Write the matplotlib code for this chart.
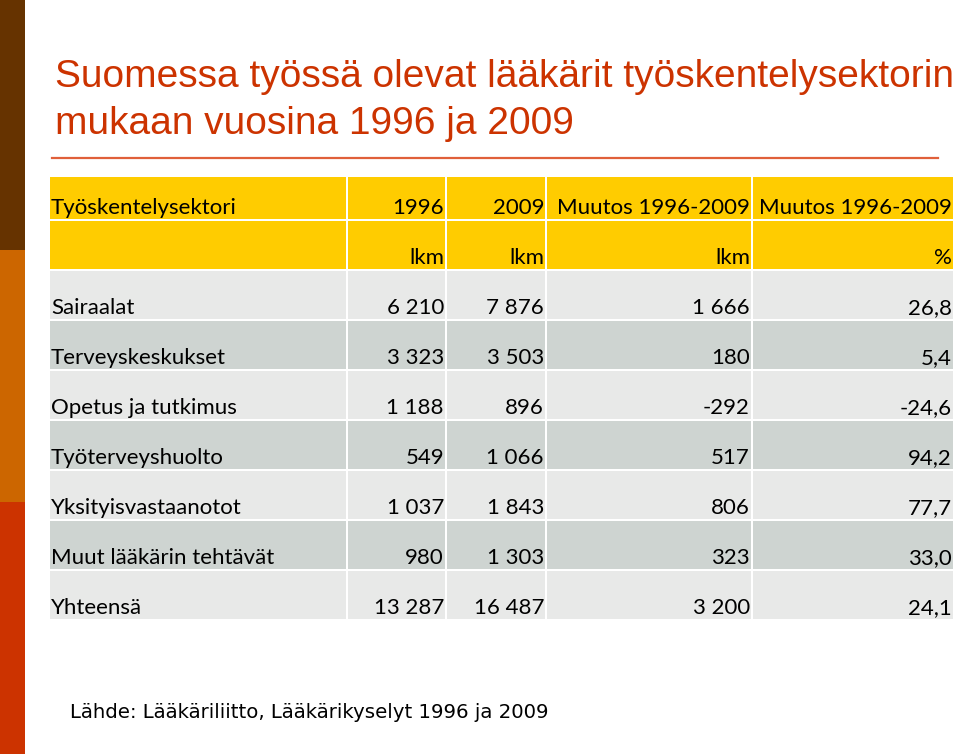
import matplotlib
matplotlib.use('Agg')
import matplotlib.pyplot as plt
from matplotlib.patches import Rectangle

# ---- data ----
title = 'Suomessa työssä olevat lääkärit työskentelysektorin\nmukaan vuosina 1996 ja 2009'
header1 = ['Työskentelysektori', '1996', '2009', 'Muutos 1996-2009', 'Muutos 1996-2009']
header2 = ['', 'lkm', 'lkm', 'lkm', '%']
sectors = ['Sairaalat', 'Terveyskeskukset', 'Opetus ja tutkimus', 'Työterveyshuolto',
           'Yksityisvastaanotot', 'Muut lääkärin tehtävät', 'Yhteensä']
v1996 = ['6 210', '3 323', '1 188', '549', '1 037', '980', '13 287']
v2009 = ['7 876', '3 503', '896', '1 066', '1 843', '1 303', '16 487']
muutos_lkm = ['1 666', '180', '-292', '517', '806', '323', '3 200']
muutos_pct = ['26,8', '5,4', '-24,6', '94,2', '77,7', '33,0', '24,1']
source = 'Lähde: Lääkäriliitto, Lääkärikyselyt 1996 ja 2009'

# ---- layout (pixels) ----
W, H = 960, 754
col_edges = [50, 348, 447, 547, 753, 955]
row_edges = [177, 221, 271, 321, 371, 421, 471, 521, 571, 621]
gap = 2

YELLOW = '#FFCC00'
LIGHT = '#E8E9E8'
DARK = '#CED4D1'
TXT_FONT = ['Lato', 'DejaVu Sans']

fig = plt.figure(figsize=(W / 100, H / 100), dpi=100)
ax = fig.add_axes([0, 0, 1, 1])
ax.set_xlim(0, W)
ax.set_ylim(H, 0)
ax.axis('off')

# side stripes
for y0, y1, c in [(0, 250, '#663300'), (250, 502, '#CC6600'), (502, H, '#CC3300')]:
    ax.add_patch(Rectangle((0, y0), 25, y1 - y0, color=c, lw=0))

# title + rule
t1, t2 = title.split('\n')
ax.text(55, 77, t1, fontsize=28, color='#CC3300', family='Liberation Sans',
        va='center', ha='left')
ax.text(55, 124, t2, fontsize=28, color='#CC3300', family='Liberation Sans',
        va='center', ha='left')
ax.plot([52, 938], [158, 158], color='#E0603A', lw=1.6)

rows = [header1, header2] + [list(r) for r in zip(sectors, v1996, v2009, muutos_lkm, muutos_pct)]
for i, row in enumerate(rows):
    y0, y1 = row_edges[i], row_edges[i + 1] - gap
    if i < 2:
        fc = YELLOW
    else:
        fc = LIGHT if i % 2 == 0 else DARK
    for j, val in enumerate(row):
        x0, x1 = col_edges[j], col_edges[j + 1] - gap
        ax.add_patch(Rectangle((x0, y0), x1 - x0, y1 - y0, color=fc, lw=0))
        ty = y1 - 11
        if j == 0:
            ax.text(x0 + 1, ty, val, fontsize=16, family=TXT_FONT, va='center', ha='left')
        else:
            ax.text(x1 - 1, ty, val, fontsize=16, family=TXT_FONT, va='center', ha='right')

ax.text(70, 712, source, fontsize=14.2, family='DejaVu Sans', va='center', ha='left')

fig.savefig('out.png', dpi=100)
